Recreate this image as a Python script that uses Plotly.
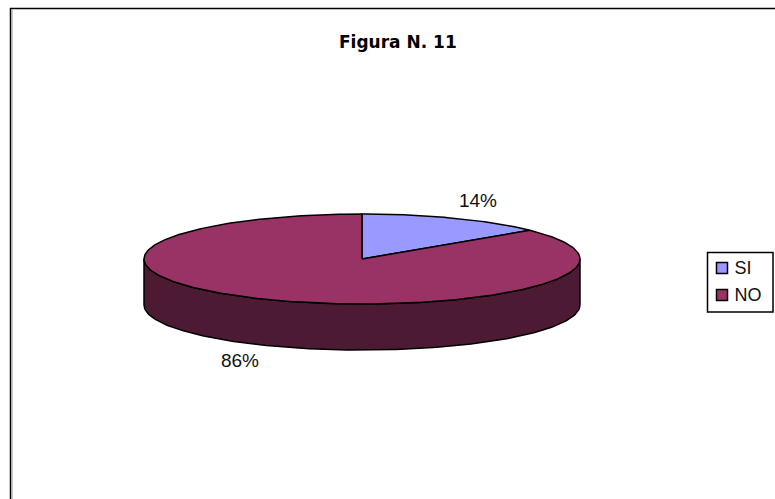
import numpy as np
import plotly.graph_objects as go

# Data
categories = ["SI", "NO"]
shares = [14, 86]
top_colors = ["#9999FF", "#993366"]
side_colors = ["#4D1A33", "#4D1A33"]
title_text = "Figura N. 11"

# Layout of the tilted disc, in page pixels
CX, CY, RX, RY, DEPTH = 362, 259, 218, 45, 46
W, H = 775, 499
FONT = "Liberation Sans"


def rim(a0, a1):
    """Points along the disc edge between two clockwise-from-top angles (degrees)."""
    n = max(2, int(abs(a1 - a0)) + 1)
    t = np.radians(np.linspace(a0, a1, n))
    return CX + RX * np.sin(t), CY - RY * np.cos(t)


fig = go.Figure()
total = sum(shares)
angles = np.concatenate([[0], np.cumsum(shares) / total * 360])

# Side wall: the visible front half of the rim (90 to 270 degrees), extruded downwards
for i, cat in enumerate(categories):
    a0, a1 = max(angles[i], 90), min(angles[i + 1], 270)
    if a1 <= a0:
        continue
    x, y = rim(a0, a1)
    fig.add_trace(go.Scatter(
        x=np.concatenate([x, x[::-1], x[:1]]),
        y=np.concatenate([y, y[::-1] + DEPTH, y[:1]]),
        mode="lines", fill="toself", fillcolor=side_colors[i],
        line=dict(color="black", width=1.5),
        hoverinfo="skip", showlegend=False,
    ))

# Top faces
for i, cat in enumerate(categories):
    x, y = rim(angles[i], angles[i + 1])
    fig.add_trace(go.Scatter(
        x=np.concatenate([[CX], x, [CX]]),
        y=np.concatenate([[CY], y, [CY]]),
        mode="lines", fill="toself", fillcolor=top_colors[i],
        line=dict(color="black", width=1.5),
        name=cat, text=f"{cat}: {shares[i]}%", hoverinfo="text", showlegend=False,
    ))

# Percent labels
label_pos = [(478, 202), (240, 362)]
fig.add_trace(go.Scatter(
    x=[p[0] for p in label_pos], y=[p[1] for p in label_pos],
    mode="text", text=[f"{v}%" for v in shares],
    textposition="middle center",
    textfont=dict(family=FONT, size=19, color="#111111"),
    hoverinfo="skip", showlegend=False,
))

# Legend
leg_y = [268, 295]
fig.add_trace(go.Scatter(
    x=[722] * len(categories), y=leg_y,
    mode="markers",
    marker=dict(symbol="square", size=11, color=top_colors,
                line=dict(color="black", width=1.5)),
    hoverinfo="skip", showlegend=False,
))
fig.add_trace(go.Scatter(
    x=[734.5] * len(categories), y=[v + 1 for v in leg_y],
    mode="text", text=categories,
    textposition="middle right",
    textfont=dict(family=FONT, size=18, color="#111111"),
    hoverinfo="skip", showlegend=False,
))

fig.update_layout(
    width=W, height=H, autosize=False,
    margin=dict(l=0, r=0, t=0, b=0),
    paper_bgcolor="white", plot_bgcolor="white",
    showlegend=False,
    xaxis=dict(range=[0, W], visible=False, fixedrange=True),
    yaxis=dict(range=[H, 0], visible=False, fixedrange=True),
    shapes=[
        dict(type="line", xref="x", yref="y", x0=10, y0=8.5, x1=775, y1=8.5,
             line=dict(color="black", width=1.5)),
        dict(type="line", xref="x", yref="y", x0=10.5, y0=8, x1=10.5, y1=499,
             line=dict(color="black", width=1.5)),
        dict(type="line", xref="x", yref="y", x0=12, y0=10, x1=12, y1=499,
             line=dict(color="#999999", width=1)),
        dict(type="rect", xref="x", yref="y", x0=707.5, y0=252.5, x1=773, y1=312,
             line=dict(color="black", width=1.5), layer="below"),
    ],
    annotations=[dict(
        x=398, y=42, xref="x", yref="y", text=f"<b>{title_text}</b>",
        showarrow=False, font=dict(family="DejaVu Sans", size=17, color="black"),
    )],
)

fig.write_html(
    "out.html", config=dict(displayModeBar=False),
    post_script="document.body.style.margin='0';document.body.style.overflow='hidden';",
)
